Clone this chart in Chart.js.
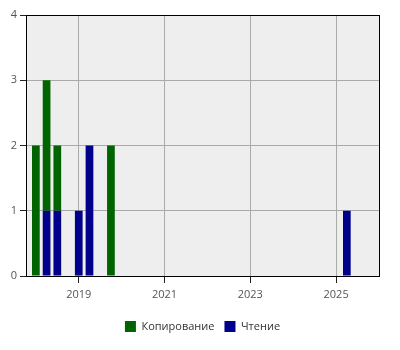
<!DOCTYPE html>
<html lang="ru">
<head>
    <meta charset="UTF-8">
    <title>Активность</title>
    <script src="https://cdn.jsdelivr.net/npm/chart.js"></script>
    <style>
        html, body { margin: 0; padding: 0; background: #fff; }
        .chart-box { width: 400px; height: 350px; }
    </style>
</head>
<body>
    <div class="chart-box">
        <canvas id="myChart"></canvas>
    </div>

    <script>
    // Кварталы (начало квартала) и значения
    const categories = ['2018-01', '2018-04', '2018-07', '2019-01', '2019-04', '2019-10', '2025-04'];
    const copying = [2, 2, 1, 0, 0, 2, 0];   // Копирование
    const reading = [0, 1, 1, 1, 2, 0, 1];   // Чтение
    const tickYears = [2019, 2021, 2023, 2025];
    const yTicks = [0, 1, 2, 3, 4];

    // '2018-04' -> 2018.25
    function toYear(s) {
        const [y, m] = s.split('-').map(Number);
        return y + (m - 1) / 12;
    }

    function points(values) {
        return categories.map((c, i) => ({ x: toYear(c), y: values[i] }));
    }

    // Серый фон области графика и рамка вокруг неё
    const plotFrame = {
        id: 'plotFrame',
        beforeDraw(chart) {
            const a = chart.chartArea;
            const ctx = chart.ctx;
            ctx.save();
            ctx.fillStyle = '#eeeeee';
            ctx.fillRect(a.left, a.top, a.right - a.left, a.bottom - a.top);
            ctx.restore();
        },
        afterDraw(chart) {
            const a = chart.chartArea;
            const ctx = chart.ctx;
            ctx.save();
            ctx.strokeStyle = '#000';
            ctx.lineWidth = 1;
            ctx.strokeRect(Math.round(a.left) + 0.5, Math.round(a.top) + 0.5,
                Math.round(a.right - a.left), Math.round(a.bottom - a.top));
            ctx.restore();
        }
    };

    const font = { family: "'Open Sans', 'Noto Sans', sans-serif", size: 11 };

    new Chart(document.getElementById('myChart'), {
        type: 'bar',
        data: {
            datasets: [
                { label: 'Чтение', data: points(reading), backgroundColor: '#00008b' },
                { label: 'Копирование', data: points(copying), backgroundColor: '#006400' }
            ]
        },
        options: {
            responsive: true,
            maintainAspectRatio: false,
            animation: false,
            layout: { padding: { top: 15, right: 21, bottom: 8, left: 0 } },
            scales: {
                x: {
                    type: 'linear',
                    stacked: true,
                    offset: false,
                    min: 2017.77,
                    max: 2026,
                    afterBuildTicks(scale) {
                        scale.ticks = tickYears.map(v => ({ value: v }));
                    },
                    afterFit(scale) { scale.height = 35; },
                    ticks: {
                        color: '#555',
                        font: font,
                        padding: 5,
                        maxRotation: 0,
                        callback: v => String(v)
                    },
                    grid: { offset: false, color: '#aaaaaa', tickColor: '#222', tickLength: 7 },
                    border: { color: '#000' }
                },
                y: {
                    stacked: true,
                    min: 0,
                    max: 4,
                    afterBuildTicks(scale) {
                        scale.ticks = yTicks.map(v => ({ value: v }));
                    },
                    afterFit(scale) { scale.width = 26; },
                    ticks: { color: '#555', font: font, padding: 3 },
                    grid: { color: '#aaaaaa', tickColor: '#222', tickLength: 6 },
                    border: { color: '#000' }
                }
            },
            plugins: {
                legend: {
                    position: 'bottom',
                    fullSize: false,
                    reverse: true,
                    labels: {
                        boxWidth: 11,
                        boxHeight: 11,
                        color: '#333',
                        font: font,
                        padding: 10
                    }
                },
                tooltip: { enabled: false }
            }
        },
        plugins: [plotFrame]
    });
    </script>
</body>
</html>
